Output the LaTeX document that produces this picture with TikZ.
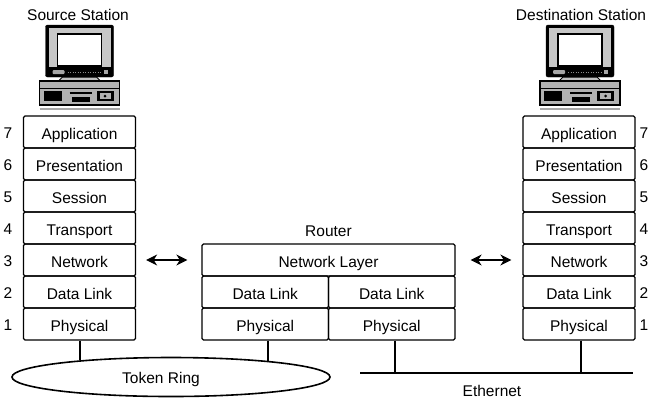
\documentclass[tikz,border=0pt]{standalone}
\usepackage{fontspec}
\setmainfont{Liberation Sans}
\usetikzlibrary{shapes.geometric,arrows.meta}

\tikzset{
  txt/.style={font=\fontsize{15.5}{18}\selectfont, inner sep=0pt},
  layerbox/.style={draw, rectangle, rounded corners=1.5pt, line width=1.3pt,
    minimum height=32pt, inner sep=0pt, text height=14pt, text depth=0pt,
    font=\fontsize{15.5}{18}\selectfont},
  stackbox/.style={layerbox, minimum width=112pt},
  halfbox/.style={layerbox, minimum width=126.5pt},
  widebox/.style={layerbox, minimum width=253pt},
  lnum/.style={font=\fontsize{15.5}{18}\selectfont, inner sep=0pt,
    text height=12pt, text depth=0pt},
  twoway/.style={{Stealth[length=11pt,width=11pt,inset=3.5pt]}-{Stealth[length=11pt,width=11pt,inset=3.5pt]},
    line width=1.1pt},
  wire/.style={line width=1.8pt},
  computer/.pic={
    % monitor housing
    \filldraw[fill=black, rounded corners=2pt] (-34,25) rectangle (34,77);
    \fill[black!22] (-31,28) rectangle (31,67);
    \filldraw[fill=white, draw=black, line width=1.3pt] (-22,34) rectangle (22,66);
    % control strip under the screen
    \fill[black!35, rounded corners=1pt] (-27,70) rectangle (-15,74);
    \fill[black!35] (24,70) rectangle (28,74);
    \draw[black!45, dash pattern=on 1pt off 1.5pt] (-12,72) -- (21,72);
    % stand
    \filldraw[fill=black!25, line width=1pt] (-17,77) -- (17,77) -- (21,81) -- (-21,81) -- cycle;
    % system unit
    \filldraw[fill=black!30, line width=1.3pt] (-40,81) rectangle (40,105);
    \draw[line width=1pt] (-40,88) -- (40,88);
    \fill (-36,91) rectangle (-18,101);
    \draw[line width=1.4pt] (-10,93) -- (12,93);
    \fill (-8,97) rectangle (10,102);
    \fill (17,91) rectangle (34,101);
    \fill[black!30] (20,93) rectangle (31,99);
    \fill (25.5,96) circle[radius=1.5pt];
    % shadow under the unit
    \draw[black!35, line width=2pt] (-40,109) -- (40,109);
  }
}

\begin{document}
\begin{tikzpicture}[x=1pt, y=-1pt]
\useasboundingbox (0,0) rectangle (658,400);

% station titles and workstations
\node[txt, anchor=base] (srctitle) at (78,20.5) {Source Station};
\node[txt, anchor=base] (dsttitle) at (581,20.5) {Destination Station};
\pic at (79.5,0) {computer};
\pic at (580,0) {computer};

% source and destination protocol stacks
\foreach \n/\t [count=\i] in {7/Application,6/Presentation,5/Session,4/Transport,3/Network,2/Data Link,1/Physical} {
  \node[stackbox] (S\n) at (79.5,100+32*\i) {\t};
  \node[lnum] (sn\n) at (8,100+32*\i) {\n};
  \node[stackbox] (D\n) at (579,100+32*\i) {\t};
  \node[lnum] (dn\n) at (644,100+32*\i) {\n};
}

% router
\node[txt, anchor=base] (routertitle) at (328.5,236.5) {Router};
\node[widebox] (RN) at (328.5,260) {Network Layer};
\node[halfbox] (RD1) at (265.25,292) {Data Link};
\node[halfbox] (RD2) at (391.75,292) {Data Link};
\node[halfbox] (RP1) at (265.25,324) {Physical};
\node[halfbox] (RP2) at (391.75,324) {Physical};

% peer network-layer arrows
\draw[twoway, shorten <=10pt, shorten >=14pt] (S3.east) -- (RN.west);
\draw[twoway, shorten <=15pt, shorten >=11pt] (RN.east) -- (D3.west);

% token ring
\node[ellipse, draw, line width=1.6pt, minimum width=318pt, minimum height=39pt,
      inner sep=0pt] (tokenring) at (171,377) {};
\node[txt, anchor=base] (trtext) at (161,383) {Token Ring};
\draw[wire, shorten >=-3.5pt] ([xshift=0.5pt]S1.south) -- ([xshift=0.5pt]S1.south |- tokenring.north);
\draw[wire, shorten >=-4pt] ([xshift=3pt]RP1.south) -- ([xshift=3pt]RP1.south |- tokenring.north);

% ethernet
\coordinate (ethL) at (360,372.5);
\coordinate (ethR) at (633,372.5);
\draw[line width=2pt] (ethL) -- (ethR);
\node[txt, anchor=base] (ethtext) at (492,396.5) {Ethernet};
\draw[wire] ([xshift=3pt]RP2.south) -- ([xshift=3pt]RP2.south |- ethL);
\draw[wire] ([xshift=2pt]D1.south) -- ([xshift=2pt]D1.south |- ethL);
\end{tikzpicture}
\end{document}
